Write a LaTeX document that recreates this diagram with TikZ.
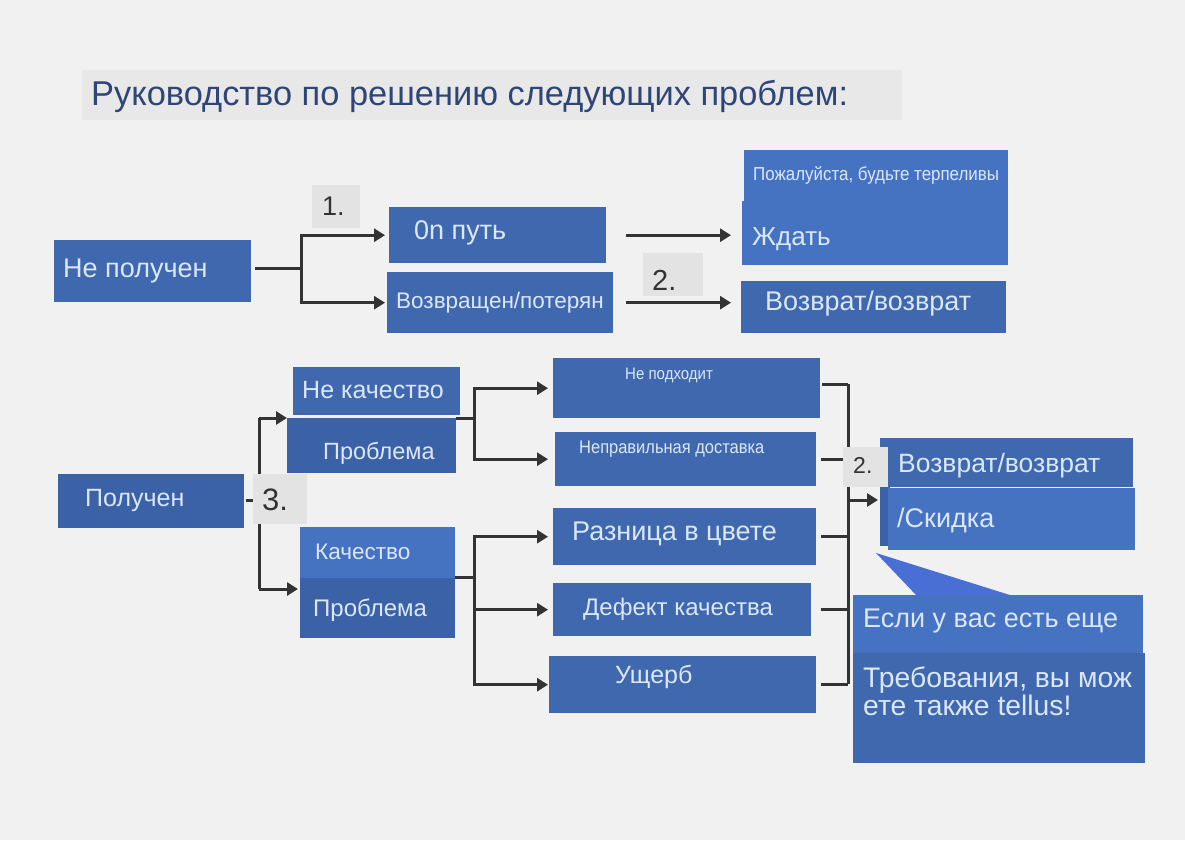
\documentclass[tikz,border=0pt]{standalone}
\usepackage{fontspec}
\setmainfont{Liberation Sans}
\newfontfamily\narrowf[FakeStretch=0.9]{Liberation Sans}
\usetikzlibrary{arrows.meta,calc}
\definecolor{bgc}{HTML}{F1F1F1}
\definecolor{bandc}{HTML}{E8E8E8}
\definecolor{titlec}{HTML}{2E4677}
\definecolor{boxb}{HTML}{4068AE}
\definecolor{boxl}{HTML}{4672C2}
\definecolor{boxd}{HTML}{3B61A6}
\definecolor{txc}{HTML}{DAE7FC}
\definecolor{lblc}{HTML}{E3E3E3}
\definecolor{linec}{HTML}{333333}
\definecolor{wedgec}{HTML}{4A6FD4}
\tikzset{
  bx/.style={fill=boxb, draw=none, anchor=north west, inner sep=0pt},
  tx/.style={text=txc, anchor=base west, inner sep=0pt},
  lbl/.style={fill=lblc, draw=none, anchor=north west, inner sep=0pt},
  ltx/.style={text=linec, anchor=base west, inner sep=0pt},
  ln/.style={draw=linec, line width=3pt},
  arr/.style={draw=linec, line width=3pt, -{Triangle[length=11pt,width=13pt]}},
}
\begin{document}
\begin{tikzpicture}[x=1pt,y=-1pt]
\useasboundingbox (0,0) rectangle (1185,840);
\fill[bgc] (0,0) rectangle (1185,840);
% title
\node[fill=bandc, anchor=north west, inner sep=0pt, minimum width=820pt, minimum height=50pt] (band) at (82,70) {};
\node[text=titlec, anchor=base west, inner sep=0pt, font=\fontsize{34.4}{38}\selectfont] (title) at (91,106) {Руководство по решению следующих проблем:};

% ---------- top section ----------
\node[bx, minimum width=197pt, minimum height=62pt] (np) at (54,240) {};
\node[tx, font=\fontsize{27}{30}\selectfont] (npt) at (63,277) {Не получен};
\node[bx, minimum width=217pt, minimum height=56pt] (put) at (389,207) {};
\node[tx, font=\fontsize{27}{30}\selectfont] (putt) at (414,239) {0n путь};
\node[bx, minimum width=226pt, minimum height=61pt] (lost) at (387,272) {};
\node[tx, font=\fontsize{22.5}{26}\selectfont] (lostt) at (396,308) {Возвращен/потерян};

\node[bx, fill=boxl, minimum width=264pt, minimum height=53pt] (plz) at (744,150) {};
\node[tx, font=\narrowf\fontsize{18.8}{22}\selectfont] (plzt) at (753,180) {Пожалуйста, будьте терпеливы};
\node[bx, fill=boxl, minimum width=266pt, minimum height=64pt] (wait) at (742,201) {};
\node[tx, font=\fontsize{26}{30}\selectfont] (waitt) at (752,245) {Ждать};
\node[bx, minimum width=265pt, minimum height=52pt] (ret1) at (741,281) {};
\node[tx, font=\fontsize{27}{30}\selectfont] (ret1t) at (765,310) {Возврат/возврат};

\coordinate (f1) at (301,268);
\draw[ln, shorten <=4pt] (np.east |- f1) -- (f1);
\draw[arr, shorten >=4pt] (f1) |- (put.west);
\draw[arr, shorten >=2pt] (f1) |- (lost.west);
\draw[arr, shorten <=20pt, shorten >=11pt] (put.east) -- (put.east -| wait.west);
\draw[arr, shorten <=13pt, shorten >=10pt] (lost.east) -- (lost.east -| ret1.west);

\node[lbl, minimum width=48pt, minimum height=43pt] (l1) at (312,185) {};
\node[ltx, font=\fontsize{27}{30}\selectfont] at (322,215) {1.};
\node[lbl, minimum width=60pt, minimum height=43pt] (l2) at (643,253) {};
\node[ltx, font=\fontsize{29}{32}\selectfont] at (652,290) {2.};

% ---------- bottom section ----------
\node[bx, fill=boxd, minimum width=186pt, minimum height=54pt] (pol) at (58,474) {};
\node[tx, font=\fontsize{25}{28}\selectfont] (polt) at (85,506) {Получен};

\node[bx, minimum width=167pt, minimum height=48pt] (nq) at (293,367) {};
\node[tx, font=\fontsize{25}{28}\selectfont] (nqt) at (302,398) {Не качество};
\node[bx, fill=boxd, minimum width=169pt, minimum height=55pt] (nqp) at (287,418) {};
\node[tx, font=\fontsize{23.5}{27}\selectfont] (nqpt) at (323,459) {Проблема};
\node[bx, fill=boxl, minimum width=155pt, minimum height=51pt] (q) at (300,527) {};
\node[tx, font=\fontsize{22.5}{26}\selectfont] (qt) at (315,559) {Качество};
\node[bx, fill=boxd, minimum width=155pt, minimum height=60pt] (qp) at (300,578) {};
\node[tx, font=\fontsize{24}{28}\selectfont] (qpt) at (313,616) {Проблема};

\node[bx, minimum width=267pt, minimum height=60pt] (c1) at (553,358) {};
\node[tx, font=\narrowf\fontsize{16.7}{20}\selectfont] (c1t) at (625,379) {Не подходит};
\node[bx, minimum width=261pt, minimum height=54pt] (c2) at (555,432) {};
\node[tx, font=\narrowf\fontsize{18.3}{21}\selectfont] (c2t) at (579,453) {Неправильная доставка};
\node[bx, minimum width=263pt, minimum height=57pt] (c3) at (553,508) {};
\node[tx, font=\fontsize{27}{30}\selectfont] (c3t) at (572,540) {Разница в цвете};
\node[bx, minimum width=258pt, minimum height=53pt] (c4) at (553,583) {};
\node[tx, font=\fontsize{24}{28}\selectfont] (c4t) at (583,615) {Дефект качества};
\node[bx, minimum width=267pt, minimum height=57pt] (c5) at (549,656) {};
\node[tx, font=\fontsize{25}{28}\selectfont] (c5t) at (615,683) {Ущерб};

% connectors left
\coordinate (f3) at (259,500);
\coordinate (a3t) at (259,418);
\coordinate (a3b) at (259,589);
\draw[ln, shorten <=2pt] (pol.east |- f3) -- (f3);
\draw[ln] (a3t) -- (a3b);
\draw[arr] (a3t) -- (a3t -| nqp.west);
\draw[arr, shorten >=2pt] (a3b) -- (a3b -| qp.west);

\coordinate (g1) at (474,418);
\draw[ln] (nqp.north east) -- (g1);
\draw[arr, shorten >=5pt] (g1) |- (c1.west);
\draw[arr, shorten >=7pt] (g1) |- (c2.west);
\coordinate (g2) at (474,577);
\draw[ln] (qp.north east |- g2) -- (g2);
\draw[arr, shorten >=5pt] (g2) |- (c3.west);
\draw[arr, shorten >=5pt] (g2) |- (c4.west);
\draw[arr, shorten >=1pt] (g2) |- (c5.west);

% right collector
\coordinate (h1) at (848,384);
\coordinate (h5) at (848,684);
\coordinate (h3) at (848,500);
\draw[ln] (h1) -- (h5);
\draw[ln, shorten <=2pt] (c1.east |- h1) -- (h1);
\draw[ln, shorten <=5pt] (c2.east) -- (c2.east -| h1);
\draw[ln, shorten <=5pt] (c3.east) -- (c3.east -| h1);
\draw[ln, shorten <=10pt] (c4.east) -- (c4.east -| h1);
\draw[ln, shorten <=5pt] (c5.east) -- (c5.east -| h1);

\node[bx, minimum width=253pt, minimum height=49pt] (ret2) at (880,438) {};
\node[tx, font=\fontsize{26.5}{30}\selectfont] (ret2t) at (898,472) {Возврат/возврат};
\node[bx, fill=boxd, minimum width=10pt, minimum height=59pt] (sliver) at (880,487) {};
\node[bx, fill=boxl, minimum width=247pt, minimum height=62pt] (sk) at (888,488) {};
\node[tx, font=\fontsize{27}{30}\selectfont] (skt) at (897,527) {/Скидка};
\draw[arr, shorten >=10pt] (h3) -- (h3 -| sk.west);

\node[lbl, minimum width=45pt, minimum height=40pt] (l4) at (843,447) {};
\node[ltx, font=\fontsize{23}{26}\selectfont] at (853,473) {2.};
\node[lbl, minimum width=54pt, minimum height=50pt] (l3) at (253,474) {};
\node[ltx, font=\fontsize{31}{34}\selectfont] at (262,510) {3.};

% callout
\fill[wedgec] (876,553) -- (1013,596) -- (917,596) -- cycle;
\node[bx, fill=boxl, minimum width=290pt, minimum height=58pt] (cb1) at (853,595) {};
\node[tx, font=\fontsize{27}{30}\selectfont] (cb1t) at (863,627) {Если у вас есть еще};
\node[bx, minimum width=292pt, minimum height=110pt] (cb2) at (853,653) {};
\node[tx, font=\fontsize{28.3}{28}\selectfont] (cb2t) at (863,687) {Требования, вы мож};
\node[tx, font=\fontsize{28.3}{28}\selectfont] (cb2u) at (863,715) {ете также tellus!};
\end{tikzpicture}
\end{document}
